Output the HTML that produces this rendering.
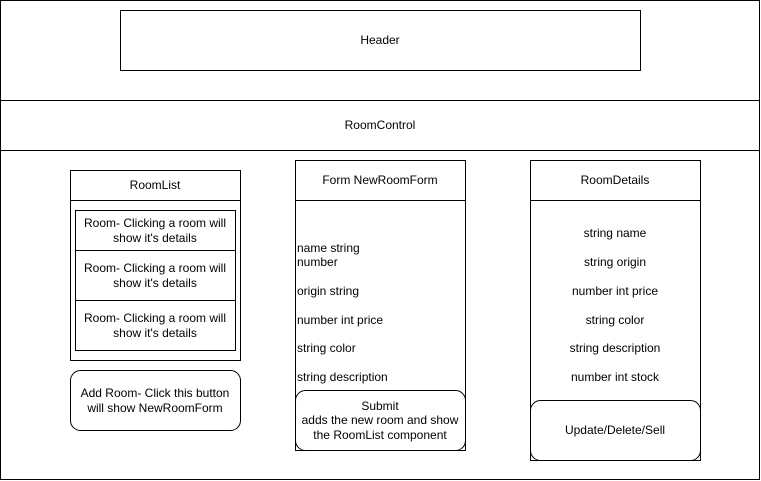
<!DOCTYPE html>
<html><head><style>body{margin:0;background:#fff}svg{display:block}text{font-family:"Liberation Sans",Arial,sans-serif;font-size:12px;fill:#000}</style></head>
<body>
<svg width="761" height="481" viewBox="0 0 761 481" xmlns="http://www.w3.org/2000/svg">
<g fill="#fff" stroke="#000" stroke-width="1">
<rect x="0.5" y="0.5" width="759" height="479"/>
<rect x="120.5" y="10.5" width="520" height="60"/>
<line x1="0" y1="100.5" x2="760" y2="100.5"/>
<line x1="0" y1="150.5" x2="760" y2="150.5"/>
<rect x="70.5" y="170.5" width="170" height="190"/>
<line x1="70" y1="200.5" x2="240" y2="200.5"/>
<rect x="75.5" y="210.5" width="160" height="140"/>
<line x1="75" y1="250.5" x2="235" y2="250.5"/>
<line x1="75" y1="300.5" x2="235" y2="300.5"/>
<rect x="70.5" y="370.5" width="170" height="60" rx="10"/>
<rect x="295.5" y="160.5" width="170" height="290"/>
<line x1="295" y1="200.5" x2="465" y2="200.5"/>
<rect x="295.5" y="390.5" width="170" height="60" rx="10"/>
<rect x="530.5" y="160.5" width="170" height="300"/>
<line x1="530" y1="200.5" x2="700" y2="200.5"/>
<rect x="530.5" y="400.5" width="170" height="60" rx="10"/>
</g>
<g text-anchor="middle">
<text x="380" y="44">Header</text>
<text x="380" y="129">RoomControl</text>
<text x="155" y="189">RoomList</text>
<text x="155" y="227">Room- Clicking a room will</text><text x="155" y="242">show it's details</text>
<text x="155" y="272">Room- Clicking a room will</text><text x="155" y="287">show it's details</text>
<text x="155" y="322">Room- Clicking a room will</text><text x="155" y="337">show it's details</text>
<text x="155" y="397">Add Room- Click this button</text><text x="155" y="412">will show NewRoomForm</text>
<text x="380" y="184">Form NewRoomForm</text>
<text x="380" y="410">Submit</text><text x="380" y="424">adds the new room and show</text><text x="380" y="439">the RoomList component</text>
<text x="615" y="184">RoomDetails</text>
<text x="615" y="237">string name</text>
<text x="615" y="266">string origin</text>
<text x="615" y="295">number int price</text>
<text x="615" y="324">string color</text>
<text x="615" y="352">string description</text>
<text x="615" y="381">number int stock</text>
<text x="615" y="434">Update/Delete/Sell</text>
</g>
<g>
<text x="297" y="252">name string</text><text x="297" y="266">number</text>
<text x="297" y="295">origin string</text>
<text x="297" y="324">number int price</text>
<text x="297" y="352">string color</text>
<text x="297" y="381">string description</text>
</g>
</svg>
</body></html>
